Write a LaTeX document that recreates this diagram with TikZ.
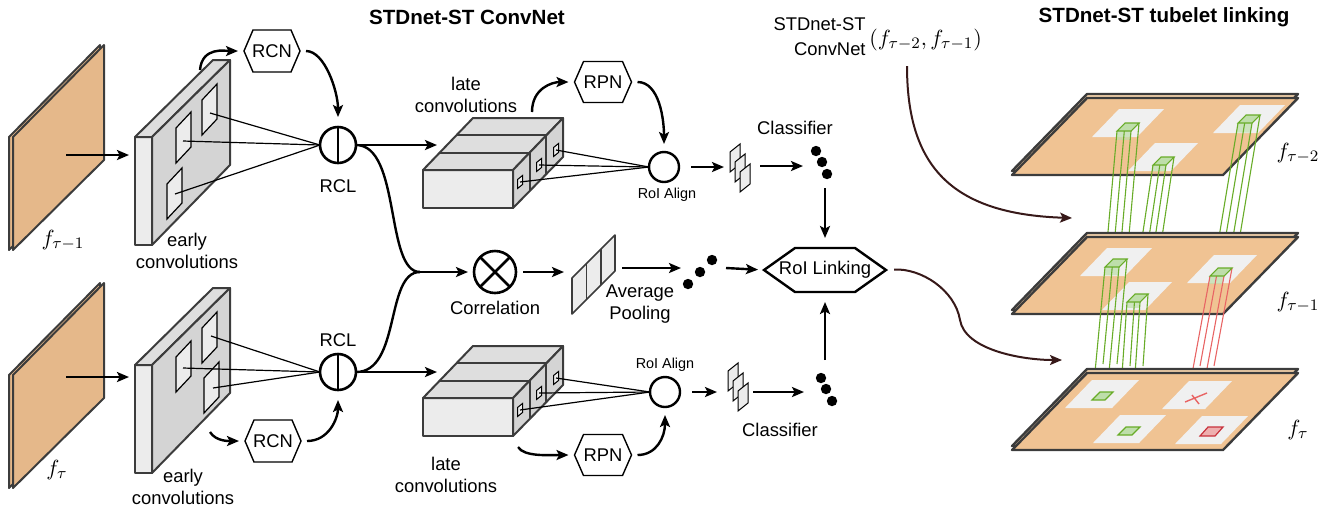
\documentclass[tikz,border=0pt]{standalone}
\usepackage[no-math]{fontspec}
\setsansfont{Liberation Sans}
\usetikzlibrary{arrows.meta,calc}
\definecolor{frameC}{RGB}{229,184,138}
\definecolor{planeC}{RGB}{240,195,147}
\definecolor{planeS}{RGB}{246,212,172}
\definecolor{patchC}{RGB}{240,240,240}
\definecolor{dk}{RGB}{60,60,60}
\definecolor{boxL}{RGB}{236,236,236}
\definecolor{boxM}{RGB}{222,222,222}
\definecolor{boxD}{RGB}{212,212,212}
\definecolor{tubeG}{RGB}{104,172,40}
\definecolor{tubeGf}{RGB}{190,222,170}
\definecolor{tubeR}{RGB}{232,100,100}
\definecolor{tubeRd}{RGB}{200,50,60}
\definecolor{tubeRf}{RGB}{238,175,175}
\definecolor{brownC}{RGB}{55,25,25}
% hexagon outline around a rectangular node
\newcommand\hexo[3]{\draw[line width=#3, line join=miter] (#1.west) -- ([xshift=#2]#1.north west) -- ([xshift=-#2]#1.north east) -- (#1.east) -- ([xshift=-#2]#1.south east) -- ([xshift=#2]#1.south west) -- cycle;}
\newcommand\earlyconv[1]{\begin{scope}[shift={(0,#1)}]
\filldraw[fill=boxL,outl] (135,137) rectangle (152,245);
\filldraw[fill=boxM,outl] (135,137) -- (213,60) -- (230,60) -- (152,137) -- cycle;
\filldraw[fill=boxD,outl] (152,137) -- (230,60) -- (230,165) -- (152,245) -- cycle;
\end{scope}}
\newcommand\bigsq[2]{\filldraw[fill=boxL, draw=black, line width=0.6pt] (#1,#2) -- ++(15,-16) -- ++(0,35) -- ++(-15,16) -- cycle;}
\newcommand\smsq[2]{\filldraw[fill=boxL, draw=black, line width=0.5pt] (#1-2.5,#2+6.5) -- ++(0,-9) -- ++(5,-4) -- ++(0,9) -- cycle;}
\newcommand\lateconv[1]{\begin{scope}[shift={(0,#1)}]
\filldraw[fill=boxL,outl] (423,170) rectangle (513,208);
\filldraw[fill=boxM,outl] (423,170) -- (473,118) -- (563,118) -- (513,170) -- cycle;
\filldraw[fill=boxD,outl] (513,170) -- (563,118) -- (563,157) -- (513,208) -- cycle;
\draw[outl] (439.7,152.7) -- (529.7,152.7) -- (529.7,191);
\draw[outl] (456.3,135.3) -- (546.3,135.3) -- (546.3,174);
\end{scope}}
\newcommand\fmap[2]{\filldraw[fill=boxL, draw=black, line width=0.5pt] (#1,#2) -- ++(0,-20) -- ++(10,-8) -- ++(0,20) -- cycle;}
\newcommand\planeslab[1]{\begin{scope}[shift={(0,#1)}]
\filldraw[fill=planeS, draw=dk, line width=1.2pt, line join=round] (1012,171) -- (1087,94) -- (1298,94) -- (1223,171) -- cycle;
\filldraw[fill=planeC, draw=dk, line width=1.2pt, line join=round] (1012,175) -- (1087,98) -- (1298,98) -- (1223,175) -- cycle;
\end{scope}}
\newcommand\patch[4]{\fill[patchC] (#1,#2) -- (#1+27,#2-28) -- (#1+27+#3,#2-28) -- (#1+#3,#2) -- cycle;}
% tube: x y width dx length linecolor
\newcommand\tube[6]{%
\fill[tubeGf, opacity=0.7] (#1,#2) -- (#1+#3,#2) -- ++(#4*0.08,#5*0.08) -- ($(#1,#2)+(#4*0.08,#5*0.08)$) -- cycle;
\draw[#6, line width=0.55pt] (#1,#2) -- ++(#4,#5) (#1+#3,#2) -- ++(#4,#5) (#1+#3+8,#2-8) -- ++(#4,#5) (#1+8,#2-8) -- ++(#4,#5);
\filldraw[fill=tubeGf, draw=tubeG, line width=0.55pt] (#1,#2) -- (#1+#3,#2) -- (#1+#3+8,#2-8) -- (#1+8,#2-8) -- cycle;}
\begin{document}
\begin{tikzpicture}[x=0.5pt,y=-0.5pt,
  lab/.style={font=\sffamily\fontsize{9.2}{10.8}\selectfont, align=center, inner sep=0pt},
  ttl/.style={font=\sffamily\bfseries\fontsize{10.3}{12}\selectfont, inner sep=0pt},
  small/.style={font=\sffamily\fontsize{7.2}{8}\selectfont, inner sep=0pt},
  mathl/.style={font=\fontsize{11}{13}\selectfont, inner sep=0pt},
  arr/.style={-{Stealth[length=6pt,width=5pt,inset=1.3pt]}, line width=1.2pt},
  brownarr/.style={draw=brownC, line width=1pt, -{Stealth[length=6pt,width=5pt,inset=1.3pt]}},
  thinl/.style={line width=0.6pt},
  outl/.style={draw=dk, line width=1pt, line join=round},
  hexn/.style={lab, outer sep=0pt},
  ring/.style={circle, draw, line width=1.3pt, inner sep=0pt, outer sep=0pt},
]
\useasboundingbox (0,0) rectangle (1336,511);

% titles
\node[ttl] (t1) at (467,17) {STDnet-ST ConvNet};
\node[ttl] (t2) at (1164,17) {STDnet-ST tubelet linking};

% ---------- input frames ----------
\filldraw[fill=frameC, outl] (9,137) -- (100,45) -- (100,160) -- (9,250) -- cycle;
\filldraw[fill=frameC, outl] (13,137) -- (104,45) -- (104,160) -- (13,250) -- cycle;
\filldraw[fill=frameC, outl] (9,375) -- (100,283) -- (100,398) -- (9,488) -- cycle;
\filldraw[fill=frameC, outl] (13,375) -- (104,283) -- (104,398) -- (13,488) -- cycle;
\node[mathl] (lf1) at (63,240) {$f_{\tau-1}$};
\node[mathl] (lf0) at (57,470) {$f_{\tau}$};
\coordinate (f1c) at (66,155);
\coordinate (f0c) at (66,377);
\coordinate (ec1in) at (129,155);
\coordinate (ec2in) at (129,377);
\draw[arr] (f1c) -- (ec1in);
\draw[arr] (f0c) -- (ec2in);

% ---------- early convolutions ----------
\earlyconv{0}
\earlyconv{228}
\bigsq{202}{100}\bigsq{176}{128}\bigsq{167}{184}
\bigsq{202}{328}\bigsq{176}{357}\bigsq{204}{378}
\node[lab] (el1) at (187,251) {early\\convolutions};
\node[lab] (el2) at (183,487) {early\\convolutions};

% RCL
\node[ring, minimum size=18pt] (rcl1) at (338,145) {};
\draw[line width=1.3pt] (rcl1.north) -- (rcl1.south);
\node[ring, minimum size=18pt] (rcl2) at (338,372) {};
\draw[line width=1.3pt] (rcl2.north) -- (rcl2.south);
\node[lab] (rcll1) at (338,186) {RCL};
\node[lab] (rcll2) at (338,340) {RCL};

\coordinate (s11) at (210,113);
\coordinate (s12) at (183,141);
\coordinate (s13) at (175,194);
\coordinate (s21) at (211,336);
\coordinate (s22) at (183,368);
\coordinate (s23) at (213,388);
\foreach \s in {s11,s12,s13} \draw[thinl] (\s) -- (rcl1.west);
\foreach \s in {s21,s22,s23} \draw[thinl] (\s) -- (rcl2.west);

% RCN
\node[hexn, minimum width=28pt, minimum height=21pt] (rcn1) at (272,51) {RCN};
\hexo{rcn1}{4.5pt}{0.7pt}
\node[hexn, minimum width=28pt, minimum height=21pt] (rcn2) at (273,441) {RCN};
\hexo{rcn2}{4.5pt}{0.7pt}
\coordinate (ec1top) at (200,70);
\coordinate (ec2bot) at (210,432);
\draw[arr, shorten >=3pt] (ec1top) .. controls +(2,-24) and +(-18,0) .. (rcn1.west);
\draw[arr, shorten <=3pt, shorten >=5pt] (rcn1.east) .. controls +(25,0) and +(0,-35) .. (rcl1.north);
\draw[arr, shorten >=3pt] (ec2bot) .. controls +(6,10) and +(-14,0) .. (rcn2.west);
\draw[arr, shorten <=3pt, shorten >=5pt] (rcn2.east) .. controls +(28,0) and +(0,28) .. (rcl2.south);

% ---------- late convolutions ----------
\lateconv{0}
\lateconv{228}
\smsq{520}{182}\smsq{539}{165}\smsq{556}{150}
\smsq{520}{410}\smsq{539}{393}\smsq{556}{378}
\node[lab] (ll1) at (466,95) {late\\convolutions};
\node[lab] (ll2) at (446,475) {late\\convolutions};
\coordinate (lc1in) at (437,145);
\coordinate (lc2in) at (437,372);
\draw[arr] (rcl1.east) -- (lc1in);
\draw[arr] (rcl2.east) -- (lc2in);

% RoI Align
\node[ring, line width=1.2pt, minimum size=15pt] (roi1) at (664,167) {};
\node[ring, line width=1.2pt, minimum size=15pt] (roi2) at (665,392) {};
\node[small] (roil1) at (667,195) {RoI Align};
\node[small] (roil2) at (665,365) {RoI Align};
\coordinate (q11) at (520,182);
\coordinate (q12) at (539,165);
\coordinate (q13) at (556,150);
\coordinate (q21) at (520,410);
\coordinate (q22) at (539,393);
\coordinate (q23) at (556,378);
\foreach \s in {q11,q12,q13} \draw[thinl] (\s) -- (roi1.west);
\foreach \s in {q21,q22,q23} \draw[thinl] (\s) -- (roi2.west);

% RPN
\node[hexn, minimum width=28.5pt, minimum height=20.5pt] (rpn1) at (603,82) {RPN};
\hexo{rpn1}{4.5pt}{0.7pt}
\node[hexn, minimum width=28.5pt, minimum height=20.5pt] (rpn2) at (603,455) {RPN};
\hexo{rpn2}{4.5pt}{0.7pt}
\coordinate (lc1top) at (532,112);
\coordinate (lc2bot) at (518,447);
\draw[arr, shorten >=3pt] (lc1top) .. controls +(0,-24) and +(-22,0) .. (rpn1.west);
\draw[arr, shorten <=3pt, shorten >=4pt] (rpn1.east) .. controls +(28,0) and +(0,-32) .. (roi1.north);
\draw[arr, shorten >=3pt] (lc2bot) .. controls +(6,10) and +(-25,0) .. (rpn2.west);
\draw[arr, shorten <=3pt, shorten >=4pt] (rpn2.east) .. controls +(25,0) and +(0,30) .. (roi2.south);

% ---------- correlation branch ----------
\coordinate (mrg) at (420,272);
\draw[line width=1.2pt] (rcl1.east) .. controls +(45,0) and +(-35,0) .. (mrg);
\draw[line width=1.2pt] (rcl2.east) .. controls +(45,0) and +(-35,0) .. (mrg);
\node[ring, minimum size=21pt] (corr) at (495,272) {};
\draw[line width=1.3pt] (corr.north west) -- (corr.south east) (corr.north east) -- (corr.south west);
\node[lab] (corrl) at (495,308) {Correlation};
\draw[arr, shorten >=3pt] (mrg) -- (corr.west);
\coordinate (avgL) at (564,272);
\draw[arr, shorten <=3.5pt] (corr.east) -- (avgL);
\filldraw[fill=boxL, draw=dk, line width=0.8pt, line join=round] (572,314) -- (572,278) -- (615,235) -- (615,271) -- cycle;
\draw[dk, line width=0.8pt] (586.3,263.7) -- (586.3,299.7) (600.7,249.3) -- (600.7,285.3);
\node[lab] (avgl) at (640,304) {Average\\Pooling};
\coordinate (avgR) at (622,268);
\coordinate (dotsL) at (681,268);
\draw[arr] (avgR) -- (dotsL);
\fill (688,284) circle[radius=2.6pt] (700,272) circle[radius=2.6pt] (712,260) circle[radius=2.6pt];

% RoI linking
\node[hexn, minimum width=61pt, minimum height=22pt] (link) at (825,270) {RoI Linking};
\hexo{link}{15.5pt}{1.2pt}
\coordinate (dotsR) at (726,268);
\draw[arr, shorten >=3pt] (dotsR) -- (link.west);

% classifiers
\coordinate (cls1L) at (724,167);
\draw[arr, shorten <=6pt] (roi1.east) -- (cls1L);
\fmap{730}{172}\fmap{735}{182}\fmap{740}{192}
\coordinate (cls1R) at (760,166);
\coordinate (cls1D) at (803,166);
\draw[arr] (cls1R) -- (cls1D);
\fill (816,151) circle[radius=2.6pt] (822,162) circle[radius=2.6pt] (827,174) circle[radius=2.6pt];
\node[lab] (clsl1) at (795,128) {Classifier};
\coordinate (cls1B) at (825,188);
\draw[arr, shorten >=5pt] (cls1B) -- (link.north);

\coordinate (cls2L) at (717,392);
\draw[arr, shorten <=6pt] (roi2.east) -- (cls2L);
\fmap{728}{391}\fmap{733}{401}\fmap{738}{411}
\coordinate (cls2R) at (753,392);
\coordinate (cls2D) at (804,392);
\draw[arr] (cls2R) -- (cls2D);
\fill (821,378) circle[radius=2.6pt] (826,389) circle[radius=2.6pt] (832,401) circle[radius=2.6pt];
\node[lab] (clsl2) at (780,430) {Classifier};
\coordinate (cls2T) at (825,360);
\draw[arr, shorten >=5pt] (cls2T) -- (link.south);

% ---------- tubelet linking ----------
\node[lab, align=right, anchor=east, font=\sffamily\fontsize{9.2}{12.5}\selectfont] (cnlab) at (866,37) {STDnet-ST\\ConvNet};
\node[mathl, anchor=west] (cnmath) at (869,40) {$(f_{\tau-2},f_{\tau-1})$};

% top plane
\planeslab{0}
\patch{1092}{137}{45}{}
\patch{1128}{171}{43}{}
\patch{1213}{133}{45}{}
\tube{1117}{131}{14}{-10}{112}{tubeG}
\tube{1153}{165}{13}{-12}{80}{tubeG}
\tube{1238}{123}{14}{-20}{120}{tubeG}
% middle plane
\planeslab{139}
\patch{1080}{276}{45}{}
\patch{1102}{310}{43}{}
\patch{1187}{283}{43}{}
\tube{1105}{267}{14}{-10}{105}{tubeG}
\tube{1127}{302}{13}{-5}{72}{tubeG}
\tube{1210}{276}{14}{-18}{98}{tubeR}
% bottom plane
\planeslab{275}
\patch{1065}{408}{47}{}
\patch{1162}{409}{43}{}
\patch{1093}{443}{46}{}
\patch{1175}{444}{46}{}
\filldraw[fill=tubeGf, draw=tubeG, line width=0.6pt] (1092,400) -- (1100,392) -- (1113,392) -- (1105,400) -- cycle;
\filldraw[fill=tubeGf, draw=tubeG, line width=0.6pt] (1118,435) -- (1126,427) -- (1140,427) -- (1132,435) -- cycle;
\filldraw[fill=tubeRf, draw=tubeRd, line width=0.6pt] (1200,436) -- (1208,427) -- (1223,427) -- (1215,436) -- cycle;
\draw[tubeR, line width=0.7pt] (1185,402) -- (1207,393) (1192,395) -- (1199,404);

\node[mathl] (lp2) at (1298,153) {$f_{\tau-2}$};
\node[mathl] (lp1) at (1298,302) {$f_{\tau-1}$};
\node[mathl] (lp0) at (1298,430) {$f_{\tau}$};

\coordinate (bc1s) at (907,66);
\coordinate (bc1e) at (1072,218);
\draw[brownarr] (bc1s) .. controls (907,165) and (950,214) .. (bc1e);
\coordinate (bc2m) at (960,320);
\coordinate (bc2e) at (1062,360);
\draw[brownarr, shorten <=4pt] (link.east) .. controls +(35,-2) and +(-5,-30) .. (bc2m) .. controls +(5,30) and +(-40,0) .. (bc2e);
\end{tikzpicture}
\end{document}
